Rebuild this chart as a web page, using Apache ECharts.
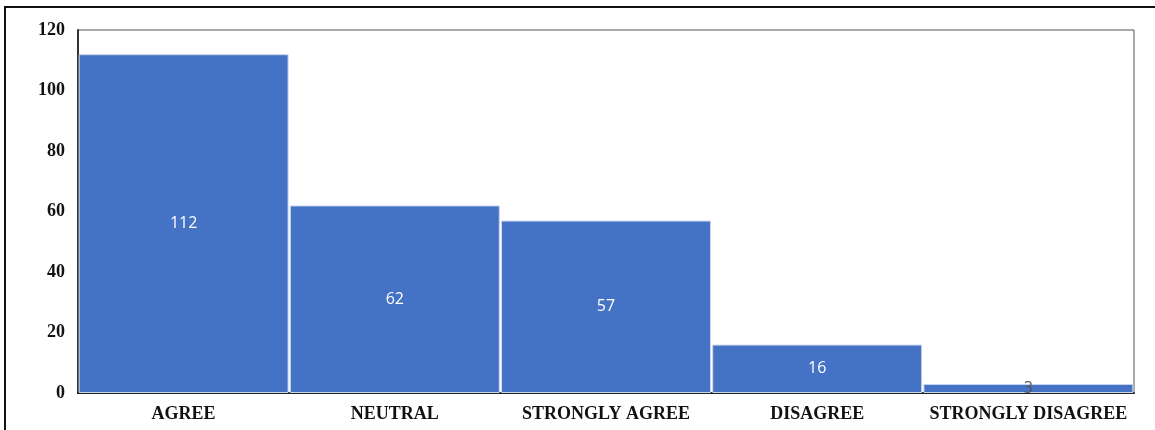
<!DOCTYPE html>
<html>
<head>
<meta charset="utf-8">
<script src="https://cdn.jsdelivr.net/npm/echarts@6/dist/echarts.min.js"></script>
<style>
  html, body { margin: 0; padding: 0; background: #fff; }
  #chart { width: 1155px; height: 430px; }
</style>
</head>
<body>
<div id="chart"></div>
<script>
const categories = ['AGREE', 'NEUTRAL', 'STRONGLY AGREE', 'DISAGREE', 'STRONGLY DISAGREE'];
const counts = [112, 62, 57, 16, 3];
const yTicks = [0, 20, 40, 60, 80, 100, 120];

const chart = echarts.init(document.getElementById('chart'));

const option = {
  animation: false,
  graphic: [
    {
      // outer frame, cut off at right and bottom
      type: 'rect',
      shape: { x: 5, y: 7, width: 1300, height: 600 },
      style: { fill: 'none', stroke: '#111', lineWidth: 2 },
      z: 0
    }
  ],
  grid: {
    left: 78, right: 21, top: 30, bottom: 37,
    show: true, borderColor: '#555', borderWidth: 1, backgroundColor: '#fff'
  },
  xAxis: {
    type: 'category',
    data: categories,
    axisLine: { lineStyle: { color: '#222', width: 2 } },
    axisTick: { show: false },
    axisLabel: {
      interval: 0,
      color: '#111', fontFamily: 'Liberation Serif', fontWeight: 'bold',
      fontSize: 18, margin: 12
    }
  },
  yAxis: {
    type: 'value',
    min: yTicks[0],
    max: yTicks[yTicks.length - 1],
    interval: 20,
    splitLine: { show: false },
    axisLine: { show: true, lineStyle: { color: '#333', width: 2 } },
    axisTick: { show: false },
    axisLabel: {
      color: '#111', fontFamily: 'Liberation Serif', fontWeight: 'bold',
      fontSize: 18, margin: 13
    }
  },
  series: [
    {
      type: 'bar',
      data: counts.map((v, i) => ({
        value: v,
        label: { color: v < 10 ? '#555' : '#fff' }
      })),
      barCategoryGap: '0.6%',
      itemStyle: { color: '#4472C4', borderColor: '#c9d5ee', borderWidth: 1 },
      label: {
        show: true, position: 'inside',
        fontFamily: 'Open Sans', fontSize: 16
      }
    }
  ]
};

chart.setOption(option);
</script>
</body>
</html>
